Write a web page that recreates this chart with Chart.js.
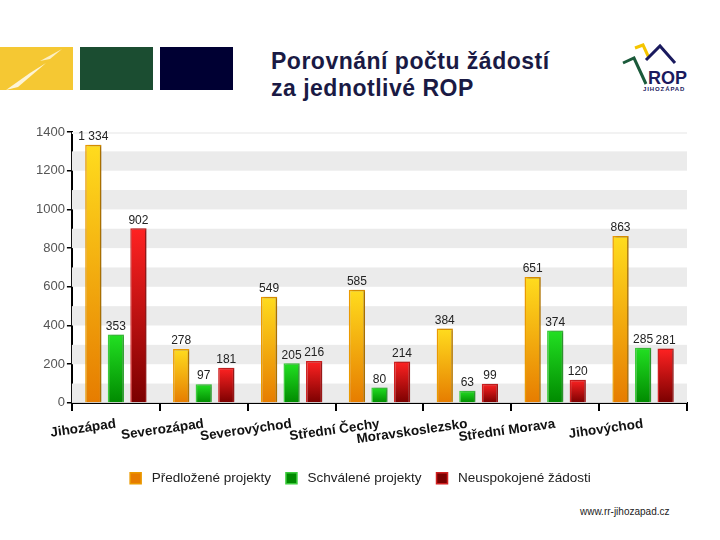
<!DOCTYPE html>
<html>
<head>
<meta charset="utf-8">
<script src="https://cdn.jsdelivr.net/npm/chart.js@4/dist/chart.umd.min.js"></script>
<style>
  body { margin: 0; width: 720px; height: 540px; background: #fff; position: relative; overflow: hidden; font-family: 'Liberation Sans', Arial, sans-serif; }
  .box { position: absolute; top: 47px; height: 43px; width: 73px; }
  #title { position: absolute; left: 271px; top: 48px; font-size: 23px; font-weight: bold; letter-spacing: 0.5px; line-height: 27px; color: #1a1a44; }
  #logo { position: absolute; left: 618px; top: 40px; }
  #footer { position: absolute; left: 580px; top: 506px; font-size: 10px; color: #222; }
  #wrap { position: absolute; left: 0; top: 112px; width: 720px; height: 385px; }
</style>
</head>
<body>
<div class="box" style="left:0;background:#f5c833;overflow:hidden">
  <svg width="73" height="43"><path d="M6 43 L30 26 L46 16 L18 40 Z" fill="#fff" opacity="0.8"/><path d="M40 14 L62 2 L50 12 Z" fill="#fff" opacity="0.7"/></svg>
</div>
<div class="box" style="left:80px;background:#1b4d31"></div>
<div class="box" style="left:160px;background:#000033"></div>
<div id="title">Porovnání počtu žádostí<br>za jednotlivé ROP</div>
<svg id="logo" width="75" height="55">
  <polyline points="5,23 16,18 28,44" fill="none" stroke="#1b5a3a" stroke-width="3"/>
  <polyline points="17,8 25,5 31,18" fill="none" stroke="#f5c500" stroke-width="3"/>
  <polyline points="28,20 42,6 57,23" fill="none" stroke="#1a1a5e" stroke-width="3"/>
  <text x="30" y="44" font-size="18" font-weight="bold" fill="#1a1a5e" font-family="Liberation Sans, Arial">ROP</text>
  <text x="25" y="51" font-size="6" font-weight="bold" letter-spacing="0.9" fill="#1a1a5e" font-family="Liberation Sans, Arial">JIHOZÁPAD</text>
</svg>
<div id="footer">www.rr-jihozapad.cz</div>
<div id="wrap"><canvas id="chart"></canvas></div>
<script>
const categories = ['Jihozápad', 'Severozápad', 'Severovýchod', 'Střední Čechy', 'Moravskoslezsko', 'Střední Morava', 'Jihovýchod'];
const predlozene = [1334, 278, 549, 585, 384, 651, 863];
const schvalene = [353, 97, 205, 80, 63, 374, 285];
const neuspokojene = [902, 181, 216, 214, 99, 120, 281];
const yTicks = [0, 200, 400, 600, 800, 1000, 1200, 1400];

Chart.defaults.font.family = "'Liberation Sans', Arial, sans-serif";

// gradient per bar, from its top down to zero
function barGradient(top, bottom, mid) {
  return ctx => {
    const chart = ctx.chart;
    if (!chart.chartArea || ctx.type !== 'data') return mid;
    const y = chart.scales.y;
    const g = chart.ctx.createLinearGradient(0, y.getPixelForValue(ctx.raw), 0, y.getPixelForValue(0));
    g.addColorStop(0, top);
    g.addColorStop(1, bottom);
    return g;
  };
}

const bandsPlugin = {
  id: 'bands',
  beforeDatasetsDraw(chart) {
    const { ctx, chartArea } = chart;
    const y = chart.scales.y;
    ctx.save();
    ctx.fillStyle = '#ebebeb';
    for (let i = 0; i < yTicks.length - 1; i++) {
      const a = y.getPixelForValue(yTicks[i]);
      const b = y.getPixelForValue(yTicks[i] + 100);
      ctx.fillRect(chartArea.left, b, chartArea.right - chartArea.left, a - b);
    }
    ctx.fillStyle = '#f2f2f2';
    ctx.fillRect(chartArea.left, chartArea.top, chartArea.right - chartArea.left, 2);
    ctx.restore();
    ctx.save();
    ctx.shadowColor = 'rgba(0,0,0,0.3)';
    ctx.shadowOffsetX = 2;
    ctx.shadowOffsetY = 0;
    ctx.shadowBlur = 2;
  },
  afterDatasetsDraw(chart) {
    const { ctx } = chart;
    ctx.restore();
    ctx.save();
    ctx.font = "12px 'Liberation Sans', Arial, sans-serif";
    ctx.fillStyle = '#222';
    ctx.textAlign = 'center';
    ctx.textBaseline = 'bottom';
    chart.data.datasets.forEach((ds, i) => {
      chart.getDatasetMeta(i).data.forEach((el, j) => {
        const txt = ds.data[j].toLocaleString('cs-CZ').replace(/\s/g, ' ');
        ctx.fillText(txt, el.x, el.y - 2);
      });
    });
    ctx.restore();
  }
};

new Chart(document.getElementById('chart'), {
  type: 'bar',
  data: {
    labels: categories,
    datasets: [
      { label: 'Předložené projekty', data: predlozene,
        backgroundColor: barGradient('#ffdc1e', '#e67c00', '#f5a400'), borderColor: '#eb9a00', borderWidth: 1.5 },
      { label: 'Schválené projekty', data: schvalene,
        backgroundColor: barGradient('#22e022', '#008a00', '#14b814'), borderColor: '#3ccc3c', borderWidth: 1.5 },
      { label: 'Neuspokojené žádosti', data: neuspokojene,
        backgroundColor: barGradient('#ff2222', '#7a0000', '#c80000'), borderColor: '#d02020', borderWidth: 1.5 }
    ]
  },
  options: {
    responsive: true,
    maintainAspectRatio: false,
    animation: false,
    layout: { padding: { left: 34, right: 33, top: 20, bottom: 2 } },
    datasets: { bar: { categoryPercentage: 0.77, barPercentage: 0.72 } },
    plugins: {
      legend: {
        position: 'bottom',
        labels: {
          boxWidth: 11, boxHeight: 11, padding: 15, color: '#222', font: { size: 13.5 },
          generateLabels(chart) {
            const items = Chart.defaults.plugins.legend.labels.generateLabels(chart);
            items.forEach(it => { it.text = ' ' + it.text; });
            return items;
          }
        }
      },
      tooltip: { enabled: false }
    },
    scales: {
      x: {
        afterFit(scale) { scale.height += 4; },
        grid: { display: true, offset: true, drawOnChartArea: false, drawTicks: true, tickLength: 8, color: '#000', lineWidth: 2 },
        border: { display: true, color: '#000', width: 2 },
        ticks: { autoSkip: false, minRotation: 8, maxRotation: 8, color: '#111', font: { size: 13.5, weight: 'bold' }, padding: 5 }
      },
      y: {
        min: 0, max: 1400,
        grid: { display: true, drawOnChartArea: false, drawTicks: true, tickLength: 5, color: '#000', lineWidth: 1.5 },
        border: { display: true, color: '#000', width: 2 },
        ticks: { stepSize: 200, color: '#555', font: { size: 13 }, padding: 2, callback: v => String(v) }
      }
    }
  },
  plugins: [bandsPlugin]
});
</script>
</body>
</html>
